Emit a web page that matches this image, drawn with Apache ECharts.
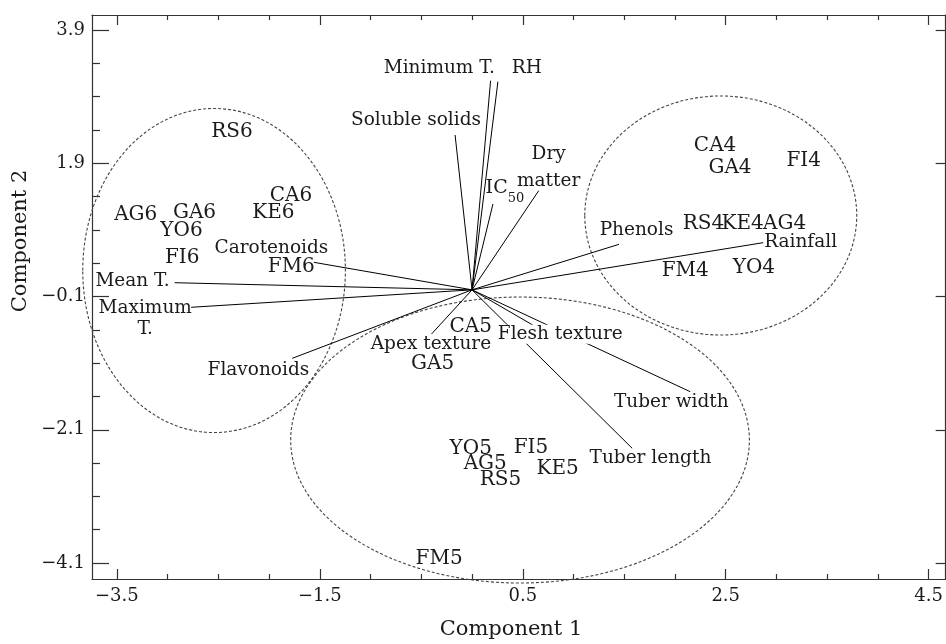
<!DOCTYPE html>
<html><head><meta charset="utf-8">
<script src="https://cdn.jsdelivr.net/npm/echarts@6/dist/echarts.min.js"></script>
<style>html,body{margin:0;padding:0;background:#fff}#c{width:946px;height:644px}</style>
</head><body><div id="c"></div>
<script>
// ---- tick values ----
const xTicksMajor = [-3.5, -1.5, 0.5, 2.5, 4.5];
const xTicksMinor = [-3, -2.5, -2, -1, -0.5, 0, 1, 1.5, 2, 3, 3.5, 4];
const yTicksMajor = [-4.1, -2.1, -0.1, 1.9, 3.9];
const yTicksMinor = [-3.6, -3.1, -2.6, -1.6, -1.1, -0.6, 0.4, 0.9, 1.4, 2.4, 2.9, 3.4];

// ---- observations (scores) ----
const obsNames = ['RS6','CA6','KE6','AG6','GA6','YO6','FI6','FM6',
                  'CA4','GA4','FI4','RS4','KE4','AG4','FM4','YO4',
                  'CA5','GA5','YO5','AG5','RS5','FI5','KE5','FM5'];
const obsPC1 = [-2.366,-1.784,-1.958,-3.314,-2.735,-2.863,-2.856,-1.781,
                 2.395, 2.542, 3.268, 2.281, 2.667, 3.081, 2.101, 2.777,
                -0.013,-0.389,-0.013, 0.130, 0.281, 0.581, 0.843,-0.324];
const obsPC2 = [ 2.374, 1.408, 1.149, 1.123, 1.149, 0.883, 0.482, 0.347,
                 2.163, 1.839, 1.938, 0.988, 0.988, 0.988, 0.287, 0.338,
                -0.553,-1.113,-2.393,-2.604,-2.844,-2.378,-2.679,-4.030];

// ---- variables (loadings) ----
const varNames = ['Soluble solids','Minimum T.','RH','IC50','Dry matter','Phenols','Rainfall',
                  'Carotenoids','Mean T.','Maximum T.','Flavonoids','Apex texture',
                  'Flesh texture','Tuber length','Tuber width'];
const varPC1 = [-0.167, 0.183, 0.255, 0.206, 0.657, 1.448, 2.870,
                -1.559,-2.931,-2.768,-1.772,-0.399, 0.598, 1.578, 2.150];
const varPC2 = [ 2.324, 3.139, 3.124, 1.288, 1.488, 0.683, 0.708,
                 0.413, 0.107,-0.262,-1.028,-0.663,-0.528,-2.378,-1.529];
// where each variable's name is written
const varLabelPC1 = [-0.552,-0.294, 0.539, 0.324, 0.755, 1.621, 3.238,
                     -1.977,-3.346,-3.221,-2.105,-0.405, 0.870, 1.758, 1.964];
const varLabelPC2 = [ 2.549, 3.334, 3.334, 1.468, 1.836, 0.888, 0.713,
                      0.623, 0.137,-0.438,-1.203,-0.817,-0.667,-2.528,-1.679];

// ---- group ellipses ----
const ellipseCX = [-2.542, 2.451, 0.473];
const ellipseCY = [ 0.290, 1.116,-2.254];
const ellipseRX = [ 1.294, 1.340, 2.260];
const ellipseRY = [ 2.432, 1.794, 2.146];

const X_MIN = -3.745, X_MAX = 4.667, Y_MIN = -4.340, Y_MAX = 4.125;
const FONT = 'DejaVu Serif';
const TXT = '#1c1a1a';
const AX = '#333';

function fmt(v){ return (v < 0 ? '\u2212' : '') + Math.abs(v).toFixed(1); }

function baseAxis(min, max){
  return {type:'value', min:min, max:max, splitLine:{show:false},
          axisLine:{show:false, onZero:false}, axisTick:{show:false}, axisLabel:{show:false}};
}
function xAx(pos, ticks, len, line, labels){
  const a = baseAxis(X_MIN, X_MAX);
  a.position = pos;
  a.axisLine = {show:line, onZero:false, lineStyle:{color:AX, width:1.2}};
  a.axisTick = {show:true, inside:true, length:len, customValues:ticks, lineStyle:{color:AX, width:1.2}};
  if (labels) a.axisLabel = {show:true, customValues:ticks, formatter:fmt, margin:8,
                             fontFamily:FONT, fontSize:18, color:TXT};
  return a;
}
function yAx(pos, ticks, len, line, labels){
  const a = baseAxis(Y_MIN, Y_MAX);
  a.position = pos;
  a.axisLine = {show:line, onZero:false, lineStyle:{color:AX, width:1.2}};
  a.axisTick = {show:true, inside:true, length:len, customValues:ticks, lineStyle:{color:AX, width:1.2}};
  if (labels) a.axisLabel = {show:true, customValues:ticks, formatter:fmt, margin:7,
                             fontFamily:FONT, fontSize:18, color:TXT};
  return a;
}

const lineBreaks = {'Dry matter':'Dry\nmatter', 'Maximum T.':'Maximum\nT.', 'Minimum T.':'Minimum T. ', 'IC50':'{n|IC}{s|50}'};
const varLabelData = varNames.map((n,i)=>{
  const item = {name:n, value:[varLabelPC1[i], varLabelPC2[i]]};
  if (n === 'Dry matter') item.label = {lineHeight:27};
  if (n === 'Maximum T.') item.label = {lineHeight:21};
  if (n === 'Flesh texture' || n === 'Tuber length' || n === 'Tuber width')
    item.label = {backgroundColor:'#fff'};
  return item;
});

const chart = echarts.init(document.getElementById('c'), null, {renderer:'canvas'});
chart.setOption({
  animation:false,
  backgroundColor:'#fff',
  grid:{left:92, top:15, width:858, height:564, containLabel:false},
  xAxis:[
    xAx('bottom', xTicksMajor, 10, true, true),
    xAx('bottom', xTicksMinor, 5, false, false),
    xAx('top', xTicksMajor, 10, true, false),
    xAx('top', xTicksMinor, 5, false, false)
  ],
  yAxis:[
    yAx('left', yTicksMajor, 17, true, true),
    yAx('left', yTicksMinor, 8, false, false),
    yAx('right', yTicksMajor, 10, true, false)
  ],
  graphic:[
    {type:'text', x:511, y:630, style:{text:'Component 1', font:'21px "DejaVu Serif"', fill:TXT, align:'center', verticalAlign:'middle'}},
    {type:'text', x:21, y:241, rotation:Math.PI/2, style:{text:'Component 2', font:'21px "DejaVu Serif"', fill:TXT, align:'center', verticalAlign:'middle'}}
  ],
  series:[
    {
      type:'custom', name:'groups', silent:true, clip:false, z:1,
      data: ellipseCX.map((x,i)=>[x, ellipseCY[i], ellipseRX[i], ellipseRY[i]]),
      encode:{x:0, y:1},
      renderItem:(params, api)=>{
        const c = api.coord([api.value(0), api.value(1)]);
        const s = api.size([api.value(2), api.value(3)]);
        return {type:'ellipse', shape:{cx:c[0], cy:c[1], rx:s[0], ry:s[1]},
                style:{fill:'none', stroke:'#444', lineWidth:1.1, lineDash:[3,2]}};
      }
    },
    {
      type:'custom', name:'loadings', silent:true, clip:false, z:2,
      data: varPC1.map((x,i)=>[x, varPC2[i]]),
      encode:{x:0, y:1},
      renderItem:(params, api)=>{
        const o = api.coord([0,0]);
        const p = api.coord([api.value(0), api.value(1)]);
        return {type:'line', shape:{x1:o[0], y1:o[1], x2:p[0], y2:p[1]},
                style:{stroke:'#000', lineWidth:1}};
      }
    },
    {
      type:'scatter', name:'variables', silent:true, z:3,
      symbol:'circle', symbolSize:1, itemStyle:{color:'rgba(0,0,0,0)', opacity:1},
      data: varLabelData,
      label:{show:true, position:'inside', fontFamily:FONT, fontSize:18.5, color:TXT, opacity:1,
             formatter:(p)=> lineBreaks[p.name] || p.name,
             rich:{n:{fontFamily:FONT, fontSize:19, color:TXT, verticalAlign:'top', lineHeight:26},
                   s:{fontFamily:FONT, fontSize:13, color:TXT, verticalAlign:'bottom', lineHeight:26}}},
      emphasis:{disabled:true}
    },
    {
      type:'scatter', name:'observations', silent:true, z:4,
      symbol:'circle', symbolSize:1, itemStyle:{color:'rgba(0,0,0,0)', opacity:1},
      data: obsNames.map((n,i)=>({name:n, value:[obsPC1[i], obsPC2[i]]})),
      label:{show:true, position:'inside', formatter:'{b}', fontFamily:FONT, fontSize:20, color:TXT, opacity:1},
      emphasis:{disabled:true}
    }
  ]
});
</script></body></html>
